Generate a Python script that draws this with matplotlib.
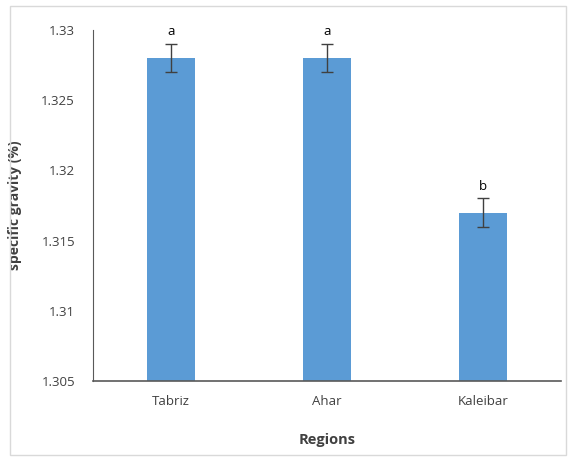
import matplotlib.pyplot as plt
from matplotlib.patches import Rectangle

regions = ['Tabriz', 'Ahar', 'Kaleibar']
gravity = [1.328, 1.328, 1.317]
errors = [0.001, 0.001, 0.001]
letters = ['a', 'a', 'b']
y_ticks = [1.305, 1.31, 1.315, 1.32, 1.325, 1.33]
y_tick_labels = ['1.305', '1.31', '1.315', '1.32', '1.325', '1.33']

plt.rcParams['font.family'] = ['Open Sans', 'DejaVu Sans']

fig = plt.figure(figsize=(5.72, 4.61), dpi=100)
fig.patches.append(Rectangle((0.017, 0.013), 0.972, 0.975, transform=fig.transFigure,
                             fill=False, edgecolor='#d9d9d9', linewidth=1))
ax = fig.add_axes([0.1626, 0.1735, 0.8184, 0.7615])

x = range(len(regions))
ax.bar(x, [g - 1.305 for g in gravity], bottom=1.305, width=0.31, color='#5b9bd5')
ax.errorbar(x, gravity, yerr=errors, fmt='none', ecolor='#404040', elinewidth=1,
            capsize=4, capthick=1)
for i, (g, e, l) in enumerate(zip(gravity, errors, letters)):
    ax.text(i, g + e + 0.0004, l, ha='center', va='bottom', fontsize=9.5, color='black')

ax.set_xlim(-0.5, 2.5)
ax.set_ylim(1.305, 1.33)
ax.set_yticks(y_ticks)
ax.set_yticklabels(y_tick_labels)
ax.set_xticks(list(x))
ax.set_xticklabels(regions)
ax.tick_params(axis='both', length=0, labelsize=9.5, labelcolor='#404040')
ax.tick_params(axis='y', pad=13)
ax.tick_params(axis='x', pad=10)

for s in ['top', 'right']:
    ax.spines[s].set_visible(False)
ax.spines['left'].set_color('#595959')
ax.spines['bottom'].set_color('#595959')
ax.spines['bottom'].set_linewidth(1.2)

ax.set_ylabel('specific gravity (%)', fontsize=10, fontweight='bold', color='#404040')
ax.yaxis.set_label_coords(-0.152, 0.5)
ax.set_xlabel('Regions', fontsize=10.5, fontweight='bold', color='#404040', labelpad=18)

fig.savefig('out.png', dpi=100)
